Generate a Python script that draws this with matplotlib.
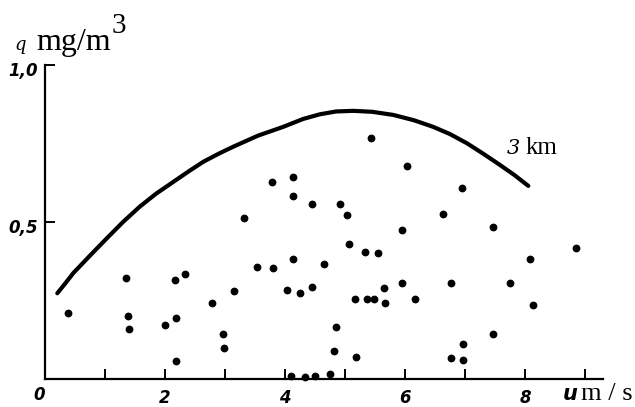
import matplotlib
matplotlib.use("Agg")
import matplotlib.pyplot as plt

# Scatter observations: wind speed u (m/s) and concentration q (mg/m^3)
u_obs = [0.39, 1.345, 1.378, 1.395, 2.16, 2.33, 2.0, 2.18, 2.19, 2.78,
         3.155, 2.975, 2.99, 3.32, 3.53, 3.80, 3.78, 4.14, 4.125, 4.14,
         4.03, 4.245, 4.45, 4.455, 4.645, 4.92, 5.03, 5.07, 5.33, 5.55,
         5.43, 6.03, 5.955, 6.64, 6.955, 7.46, 8.08, 8.85, 5.17, 5.36,
         5.49, 5.65, 5.66, 5.95, 6.17, 4.845, 4.82, 5.19, 6.76, 7.755,
         8.14, 7.47, 6.96, 6.77, 6.97, 4.095, 4.33, 4.5, 4.75]
q_obs = [0.209, 0.321, 0.201, 0.159, 0.315, 0.334, 0.172, 0.195, 0.056, 0.242,
         0.281, 0.144, 0.100, 0.512, 0.356, 0.353, 0.628, 0.642, 0.584, 0.382,
         0.283, 0.275, 0.292, 0.556, 0.365, 0.558, 0.522, 0.430, 0.405, 0.400,
         0.767, 0.679, 0.473, 0.525, 0.608, 0.485, 0.382, 0.418, 0.254, 0.255,
         0.255, 0.290, 0.241, 0.306, 0.256, 0.166, 0.089, 0.070, 0.305, 0.307,
         0.236, 0.142, 0.110, 0.066, 0.060, 0.010, 0.005, 0.009, 0.016]

# Envelope curve for 3 km
u_curve = [0.205, 0.34, 0.47, 0.75, 1.03, 1.30, 1.58, 1.85, 2.14, 2.40,
           2.64, 2.90, 3.14, 3.55, 3.97, 4.30, 4.58, 4.85, 5.14, 5.45,
           5.805, 6.15, 6.47, 6.75, 7.03, 7.30, 7.58, 7.82, 8.055]
q_curve = [0.273, 0.305, 0.337, 0.393, 0.448, 0.500, 0.549, 0.590, 0.628, 0.662,
           0.692, 0.718, 0.740, 0.775, 0.803, 0.828, 0.843, 0.852, 0.854, 0.851,
           0.841, 0.824, 0.803, 0.780, 0.751, 0.718, 0.682, 0.650, 0.615]
curve_label = "km"

x_ticks = [1, 2, 3, 4, 5, 6, 7, 8, 9]
x_ticklabels = ["", "2", "", "4", "", "6", "", "8", ""]
y_ticks = [0.5, 1.0]
y_ticklabels = ["0,5", "1,0"]

W, H = 635, 407
fig = plt.figure(figsize=(W / 100, H / 100), dpi=100)
ax = fig.add_axes([45 / W, 28 / H, 558 / W, 314 / H])
ax.set_xlim(0, 9.3)
ax.set_ylim(0, 1.0)

for s in ("top", "right"):
    ax.spines[s].set_visible(False)
for s in ("left", "bottom"):
    ax.spines[s].set_linewidth(1.6)
    ax.spines[s].set_color("black")

ax.plot(u_curve, q_curve, color="black", lw=3.0, solid_capstyle="round",
        solid_joinstyle="round")
ax.plot(u_obs, q_obs, "o", color="black", ms=4.6, clip_on=False, zorder=3)

tick_font = dict(family="DejaVu Sans", style="italic", weight="bold", size=12)
ax.set_xticks(x_ticks)
ax.set_xticklabels(x_ticklabels, fontdict=tick_font)
ax.tick_params(axis="x", direction="in", length=7, width=1.4, pad=7)
ax.set_yticks(y_ticks)
ax.set_yticklabels([])
ax.tick_params(axis="y", direction="in", length=7, width=1.4)

for v, lab in zip(y_ticks, y_ticklabels):
    ax.annotate(lab, xy=(0, v), xycoords=("axes fraction", "data"),
                xytext=(-7, -6), textcoords="offset pixels",
                ha="right", va="center", **tick_font)
ax.annotate("0", xy=(0, 0), xycoords="axes fraction",
            xytext=(-6, -16), textcoords="offset pixels",
            ha="center", va="center", **tick_font)

# Axis titles
fig.text(20 / W, 1 - 50 / H, "q", family="DejaVu Serif", style="italic",
         size=13, ha="center", va="baseline")
fig.text(36 / W, 1 - 50 / H, "mg/m", family="Liberation Serif", size=23,
         ha="left", va="baseline")
fig.text(112 / W, 1 - 33 / H, "3", family="Liberation Serif", size=21,
         ha="left", va="baseline")

fig.text(570 / W, 1 - 400 / H, "u", family="DejaVu Sans", style="italic",
         weight="bold", size=15, ha="center", va="baseline")
fig.text(581 / W, 1 - 400 / H, "m / s", family="Liberation Serif", size=19,
         ha="left", va="baseline")

# Curve label
fig.text(513 / W, 1 - 154 / H, "3", family="DejaVu Serif", style="italic",
         size=15, ha="center", va="baseline")
fig.text(526 / W, 1 - 154 / H, curve_label, family="Liberation Serif", size=18,
         ha="left", va="baseline")

fig.savefig("out.png", dpi=100)
